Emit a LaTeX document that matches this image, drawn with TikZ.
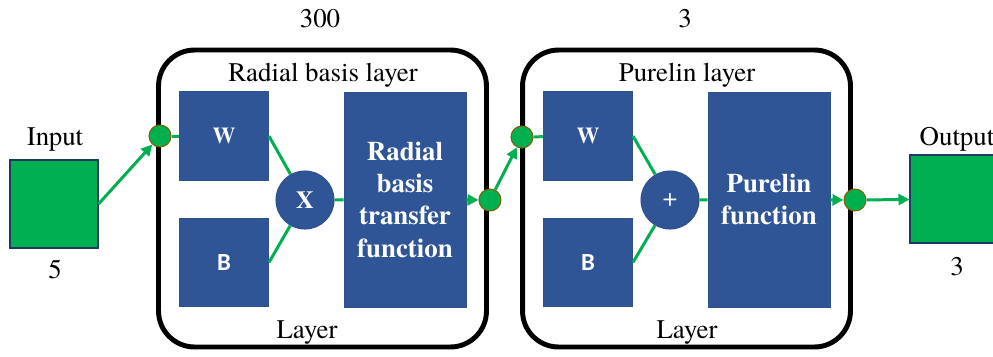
\documentclass[tikz,border=0pt]{standalone}
\usepackage{fontspec}
\setmainfont{texgyretermes}[Extension=.otf, UprightFont=*-regular, BoldFont=*-bold, ItalicFont=*-italic, BoldItalicFont=*-bolditalic]
\newfontfamily\tnr{texgyretermes}[Extension=.otf, UprightFont=*-regular, BoldFont=*-bold]
\newfontfamily\carl{Carlito}[BoldFont={Carlito Bold}]
\usetikzlibrary{arrows.meta}
\definecolor{nblue}{HTML}{2F5597}
\definecolor{nbord}{HTML}{2F528F}
\definecolor{ngreen}{HTML}{00B050}
\definecolor{dotbord}{HTML}{7F6000}
\definecolor{inbord}{HTML}{203864}
\tikzset{
  lbl/.style={anchor=base, inner sep=0pt, font=\tnr\fontsize{15.3}{18.4}\selectfont},
  layerbox/.style={draw=black, line width=2.8pt, rounded corners=0.72cm, minimum width=6.56cm, minimum height=5.94cm, inner sep=0pt},
  bluebox/.style={fill=nblue, draw=nbord, line width=0.5pt, text=white, inner sep=0pt, align=center,
    font=\tnr\bfseries\fontsize{15.3}{18.4}\selectfont},
  wbbox/.style={bluebox, minimum width=1.78cm, minimum height=1.77cm},
  fbox/.style={bluebox, minimum width=2.44cm, minimum height=4.3cm},
  opcirc/.style={circle, fill=nblue, draw=nbord, line width=0.6pt, text=white, minimum size=1.16cm, inner sep=0pt},
  gbox/.style={fill=ngreen, draw=inbord, line width=0.6pt, minimum height=1.76cm, inner sep=0pt},
  gdot/.style={circle, fill=ngreen, draw=dotbord, line width=0.6pt, minimum size=0.44cm, inner sep=0pt},
  gline/.style={draw=ngreen, line width=1.7pt},
  garrow/.style={gline, -{Triangle[length=2.2mm, width=2.2mm]}}
}
\begin{document}
\begin{tikzpicture}[x=0.02cm, y=-0.02cm]
\clip (0,0) rectangle (993,356);
\fill[white] (0,0) rectangle (993,356);
% layer frames
\node[layerbox] (L1) at (322.5,198.5) {};
\node[layerbox] (L2) at (686.5,198.5) {};
% input / output
\node[gbox, minimum width=1.76cm] (In) at (54,204) {};
\node[gbox, minimum width=2cm] (Out) at (960,199) {};
% layer 1 blocks
\node[wbbox] (W1) at (224,136) {\tnr\bfseries\fontsize{13}{15}\selectfont W};
\node[wbbox] (B1) at (224,262.5) {\carl\bfseries\fontsize{14}{16}\selectfont B};
\node[opcirc, font=\tnr\bfseries\fontsize{14}{16}\selectfont] (X) at (305,200) {X};
\node[fbox] (RBF) at (405,199.5) {Radial\\basis\\transfer\\function};
% layer 2 blocks
\node[wbbox] (W2) at (588,136) {\tnr\bfseries\fontsize{13}{15}\selectfont W};
\node[wbbox] (B2) at (588,262.5) {\carl\bfseries\fontsize{14}{16}\selectfont B};
\node[opcirc, font=\tnr\fontsize{15}{17}\selectfont] (P) at (670,200) {+};
\node[fbox] (PF) at (769,199.5) {Purelin\\function};
% connectors
\draw[gline] (W1.east) -- (X);
\draw[gline] (B1.east) -- (X);
\draw[gline] (X) -- (RBF);
\draw[gline] (W2.east) -- (P);
\draw[gline] (B2.east) -- (P);
\draw[gline] (P) -- (PF);
% dots
\node[gdot] (d1) at (160,136) {};
\node[gdot] (d2) at (490,200) {};
\node[gdot] (d3) at (522,137) {};
\node[gdot] (d4) at (855,200) {};
\draw[garrow] (In.east) -- (d1);
\draw[gline] (d1) -- (W1);
\draw[garrow] (RBF) -- (d2);
\draw[garrow] (d2) -- (d3);
\draw[gline] (d3) -- (W2);
\draw[garrow] (PF) -- (d4);
\draw[garrow] (d4) -- (Out);
% labels
\node[lbl] (tin) at (55,145) {Input};
\node[lbl] (nin) at (55,278) {5};
\node[lbl] (n300) at (320,27) {300};
\node[lbl] (t1) at (323,81) {Radial basis layer};
\node[lbl] (l1) at (307,338) {Layer};
\node[lbl] (n3a) at (685,27) {3};
\node[lbl] (t2) at (687,81) {Purelin layer};
\node[lbl] (l2) at (687,338) {Layer};
\node[lbl] (tout) at (957,145) {Output};
\node[lbl] (nout) at (957,275) {3};
\end{tikzpicture}
\end{document}
